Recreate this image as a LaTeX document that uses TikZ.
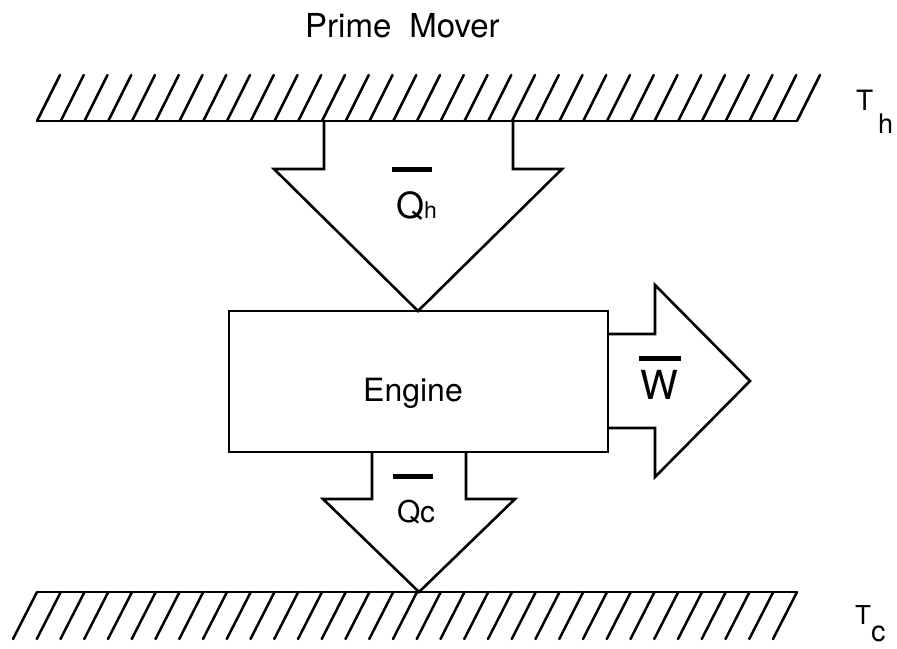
\documentclass[tikz,border=0pt]{standalone}
\usepackage{fontspec}
\setmainfont{TeX Gyre Heros}
\begin{document}
\begin{tikzpicture}[x=1pt,y=-1pt,
  ln/.style={line width=2.6pt,line join=miter,line cap=butt},
  hatch/.style={line width=2.5pt,line cap=round},
  bar/.style={line width=5pt},
  lbl/.style={inner sep=0pt,anchor=base west}]
\useasboundingbox (0,0) rectangle (897,648);
% top reservoir
\draw[ln] (37,121) -- (797,121);
\foreach \i in {0,...,32} \draw[hatch] (37+\i*23.75,121) -- ++(23,-46);
% bottom reservoir
\draw[ln] (37,592) -- (797,592);
\foreach \i in {0,...,32} \draw[hatch] (37+\i*23.75,592) -- ++(-24,47);
% Qh arrow
\draw[ln] (324,121) -- (324,169) -- (274,169) -- (418,311) -- (562,169) -- (513,169) -- (513,121);
% engine box
\node[draw,ln,minimum width=379pt,minimum height=141pt,inner sep=0pt] (engine) at (418.5,381.5) {};
\node[lbl] (enginetxt) at (363,401) {\fontsize{32}{36}\selectfont Engine};
% W arrow
\draw[ln] (608,334) -- (655,334) -- (655,285) -- (750,381) -- (655,477) -- (655,428) -- (608,428);
% Qc arrow
\draw[ln] (372,452) -- (372,499) -- (323,499) -- (419,592) -- (515,499) -- (466,499) -- (466,452);
% labels
\draw[bar] (392,169) -- (432,169);
\node[lbl] (Q1) at (396,218) {\fontsize{36}{40}\selectfont Q};
\node[lbl] (h1) at (424,218) {\fontsize{23}{26}\selectfont h};
\draw[bar] (393,476) -- (433,476);
\node[lbl] (Q2) at (397,522) {\fontsize{30}{34}\selectfont Q};
\node[lbl] (c2) at (420,522) {\fontsize{30}{34}\selectfont c};
\draw[bar] (639,358) -- (681,358);
\node[lbl] (W) at (640,399) {\fontsize{40}{44}\selectfont W};
\node[lbl] (pm) at (305,37) {\fontsize{33}{36}\selectfont Prime\hspace{18pt}Mover};
\node[lbl] (Th) at (856,110) {\fontsize{28}{30}\selectfont T};
\node[lbl] (hsub) at (878,133) {\fontsize{27}{30}\selectfont h};
\node[lbl] (Tc) at (855,624) {\fontsize{26}{30}\selectfont T};
\node[lbl] (csub) at (871,641) {\fontsize{29}{30}\selectfont c};
\end{tikzpicture}
\end{document}
